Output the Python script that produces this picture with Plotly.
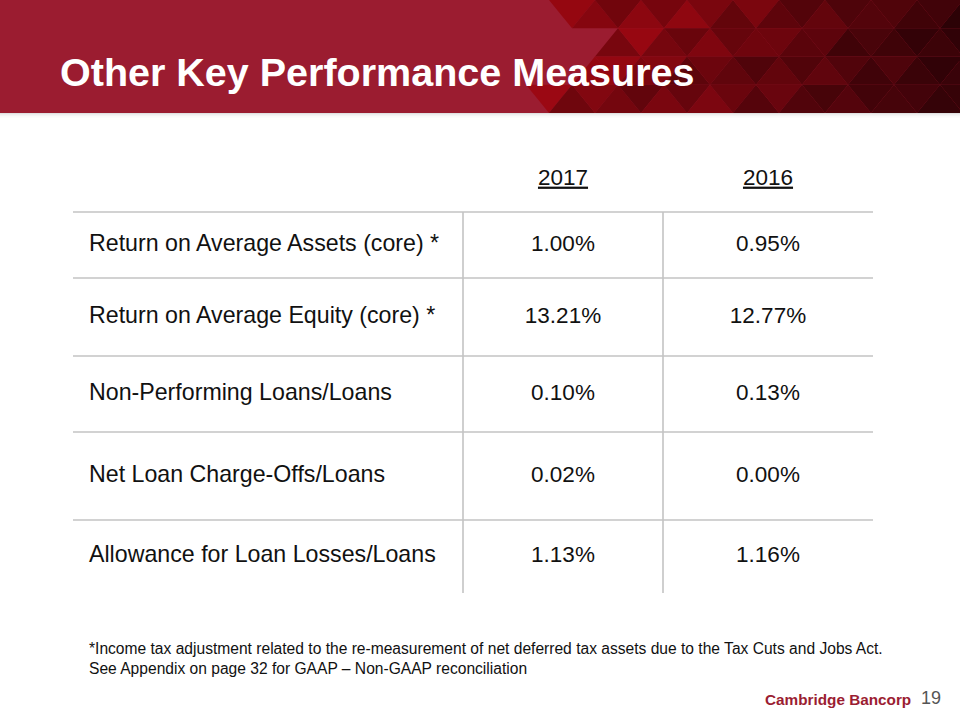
import plotly.graph_objects as go

# ---- data ----
years = ["2017", "2016"]
metrics = [
    "Return on Average Assets (core) *",
    "Return on Average Equity (core) *",
    "Non-Performing Loans/Loans",
    "Net Loan Charge-Offs/Loans",
    "Allowance for Loan Losses/Loans",
]
values_2017 = ["1.00%", "13.21%", "0.10%", "0.02%", "1.13%"]
values_2016 = ["0.95%", "12.77%", "0.13%", "0.00%", "1.16%"]
title = "Other Key Performance Measures"
footnotes = [
    "*Income tax adjustment related to the re-measurement of net deferred tax assets due to the Tax Cuts and Jobs Act.",
    "See Appendix on page 32 for GAAP \u2013 Non-GAAP reconciliation",
]
brand = "Cambridge Bancorp"
page_no = "19"

# ---- layout constants ----
W, H = 960, 720
FONT = "Liberation Sans, Arial, sans-serif"
TXT = 22.5
LBL = 23.2
row_lines = [212, 278, 356, 432, 520]
table_bottom = 593
table_left, table_right = 73, 873
col_lines = [463, 663]
col_centers = [563, 768]
header_y = 179
label_x = 89
row_centers = [(row_lines[i] + (row_lines[i + 1] if i + 1 < len(row_lines) else table_bottom)) / 2
               for i in range(len(row_lines))]

shapes = []

# header band
HEADER_H = 113
shapes.append(dict(type="rect", xref="x", yref="y", x0=0, x1=W, y0=0, y1=HEADER_H,
                   fillcolor="#9b1c30", line=dict(width=0), layer="below"))

# triangle mosaic on the right of the header
def lerp(a, b, t):
    return a + (b - a) * t

NROWS = 4
tri_h = HEADER_H / NROWS
tri_w = 46
shade = [0.0, 0.14, -0.1, 0.06, -0.18, 0.1, -0.04, 0.18, -0.07]
for r in range(NROWS):
    y0 = r * tri_h
    y1 = y0 + tri_h
    offset = (r % 2) * tri_w / 2
    for k in range(-2, 24):
        xl = 480 + offset + k * tri_w
        for up in (True, False):
            if up:
                pts = [(xl, y1), (xl + tri_w / 2, y0), (xl + tri_w, y1)]
            else:
                pts = [(xl + tri_w / 2, y0), (xl + tri_w, y1), (xl + tri_w * 1.5, y0)]
            cx = sum(p[0] for p in pts) / 3
            cy = (y0 + y1) / 2
            boundary = 530 + 70 * (1 - abs(cy - 45) / 70)
            if cx < boundary:
                continue
            t = min(max((cx - 520) / 440, 0), 1)
            tv = cy / HEADER_H
            base = (lerp(165, 55, t) * (1 - 0.12 * tv), lerp(8, 3, t), lerp(18, 8, t))
            s = shade[(k * 4 + r * 3 + (0 if up else 5)) % len(shade)]
            col = tuple(int(max(0, min(255, c * (1 + s)))) for c in base)
            path = "M {} {} L {} {} L {} {} Z".format(pts[0][0], pts[0][1], pts[1][0], pts[1][1],
                                                     pts[2][0], pts[2][1])
            shapes.append(dict(type="path", xref="x", yref="y", path=path,
                               fillcolor="rgb({},{},{})".format(*col), line=dict(width=0),
                               layer="below"))

# re-cover anything outside header
shapes.append(dict(type="rect", xref="x", yref="y", x0=0, x1=W, y0=HEADER_H, y1=H + 10,
                   fillcolor="white", line=dict(width=0), layer="below"))
# soft shadow below header
for i, op in enumerate([0.22, 0.13, 0.08, 0.04, 0.02]):
    shapes.append(dict(type="rect", xref="x", yref="y", x0=0, x1=W, y0=HEADER_H + i,
                       y1=HEADER_H + i + 1, fillcolor="rgba(120,120,120,{})".format(op),
                       line=dict(width=0), layer="below"))

# table lines
for y in row_lines:
    shapes.append(dict(type="line", xref="x", yref="y", x0=table_left, x1=table_right, y0=y, y1=y,
                       line=dict(color="#c3c3c3", width=1.6)))
for x in col_lines:
    shapes.append(dict(type="line", xref="x", yref="y", x0=x, x1=x, y0=row_lines[0], y1=table_bottom,
                       line=dict(color="#c3c3c3", width=1.6)))

fig = go.Figure()

# column headers
fig.add_trace(go.Scatter(x=col_centers, y=[header_y] * len(years),
                         text=["<u>{}</u>".format(y) for y in years], mode="text",
                         textposition="middle center",
                         textfont=dict(family=FONT, size=TXT, color="#111111"),
                         hoverinfo="skip", showlegend=False))
# row labels
fig.add_trace(go.Scatter(x=[label_x] * len(metrics), y=row_centers, text=metrics, mode="text",
                         textposition="middle right",
                         textfont=dict(family=FONT, size=LBL, color="#111111"),
                         hoverinfo="skip", showlegend=False))
# values
for ci, vals in enumerate([values_2017, values_2016]):
    fig.add_trace(go.Scatter(x=[col_centers[ci]] * len(vals), y=row_centers, text=vals, mode="text",
                             textposition="middle center",
                             textfont=dict(family=FONT, size=TXT, color="#111111"),
                             hoverinfo="skip", showlegend=False))

annotations = [
    dict(x=58, y=72, xref="x", yref="y", text="<b>{}</b>".format(title), showarrow=False,
         xanchor="left", yanchor="middle", font=dict(family=FONT, size=39.5, color="white")),
    dict(x=87, y=648, xref="x", yref="y", text=footnotes[0], showarrow=False,
         xanchor="left", yanchor="middle", font=dict(family=FONT, size=15.6, color="#111111")),
    dict(x=87, y=668, xref="x", yref="y", text=footnotes[1], showarrow=False,
         xanchor="left", yanchor="middle", font=dict(family=FONT, size=15.6, color="#111111")),
    dict(x=913, y=699, xref="x", yref="y", text="<b>{}</b>".format(brand), showarrow=False,
         xanchor="right", yanchor="middle", font=dict(family=FONT, size=15.3, color="#9b1d32")),
    dict(x=919, y=698, xref="x", yref="y", text=page_no, showarrow=False,
         xanchor="left", yanchor="middle", font=dict(family=FONT, size=18, color="#555555")),
]

fig.update_layout(
    width=W, height=H, margin=dict(l=0, r=0, t=0, b=0),
    paper_bgcolor="white", plot_bgcolor="white",
    xaxis=dict(range=[0, W], visible=False, fixedrange=True),
    yaxis=dict(range=[H, 0], visible=False, fixedrange=True),
    shapes=shapes, annotations=annotations, showlegend=False,
)

fig.write_html("out.html", config={"displayModeBar": False},
               post_script="document.body.style.margin='0';document.body.style.overflow='hidden';")
